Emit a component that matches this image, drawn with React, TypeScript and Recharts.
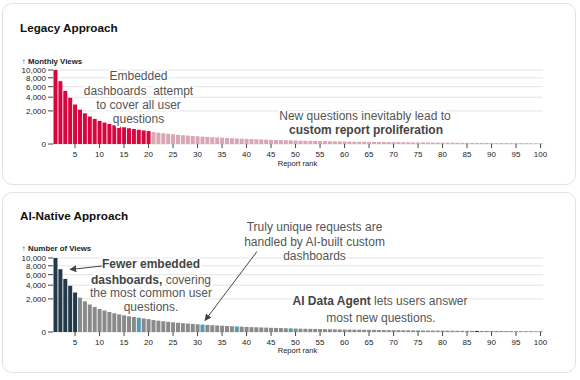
import { BarChart, Bar, XAxis, YAxis, CartesianGrid, Cell } from 'recharts';

const ranks = Array.from({ length: 100 }, (_, i) => i + 1);

const monthlyViews = [
  10000, 7200, 5150, 3900, 2850, 2150, 1720, 1380, 1150, 970,
  840, 730, 640, 570, 510, 455, 410, 370, 335, 305,
  260, 235, 210, 190, 172, 156, 142, 130, 119, 109,
  100, 92, 85, 78, 72, 66, 61, 56, 52, 48,
  44, 41, 38, 35, 32, 30, 28, 26, 24, 22,
  20, 19, 18, 17, 16, 15, 14, 13, 12, 11,
  10.5, 10, 9.5, 9, 8.5, 8, 7.5, 7, 6.6, 6.2,
  5.8, 5.5, 5.2, 4.9, 4.6, 4.3, 4, 3.8, 3.6, 3.4,
  3.2, 3, 2.8, 2.6, 2.4, 2.3, 2.2, 2.1, 2, 1.9,
  1.8, 1.7, 1.6, 1.5, 1.4, 1.3, 1.2, 1.1, 1, 1,
];

const yTicks = [0, 2000, 4000, 6000, 8000, 10000];
const xTicks = [5, 10, 15, 20, 25, 30, 35, 40, 45, 50, 55, 60, 65, 70, 75, 80, 85, 90, 95, 100];

const legacyEmbeddedCount = 20;
const aiEmbeddedRanks = [1, 2, 3, 4, 5, 87];
const aiCustomRanks = [18, 31, 38, 49, 75, 86, 100];

const data = ranks.map((rank, i) => ({ rank, views: monthlyViews[i] }));

const FONT = '"Liberation Sans", Arial, sans-serif';

function RankTick({ x, y, payload }: any) {
  if (!xTicks.includes(payload.value)) return <g />;
  return (
    <g>
      <line x1={x} x2={x} y1={y - 6} y2={y - 2} stroke="#444" />
      <text x={x} y={y + 6.5} textAnchor="middle" fontSize={8} fill="#222">
        {payload.value}
      </text>
    </g>
  );
}

function RankChart({ top, colorOf }: { top: number; colorOf: (rank: number) => string }) {
  return (
    <div style={{ position: 'absolute', left: 0, top }}>
      <BarChart
        width={580}
        height={175}
        data={data}
        margin={{ top: 70, right: 37, left: 0, bottom: 0 }}
        barCategoryGap="10%"
      >
        <CartesianGrid stroke="#e4e4e4" vertical={false} />
        <XAxis
          dataKey="rank"
          height={31}
          interval={0}
          tickSize={4}
          tickMargin={2}
          tickLine={false}
          axisLine={false}
          tick={<RankTick />}
        />
        <YAxis
          width={53}
          scale="sqrt"
          type="number"
          domain={[0, 10000]}
          ticks={yTicks}
          interval={0}
          tickSize={5}
          tickMargin={2}
          axisLine={false}
          tickLine={{ stroke: '#444' }}
          tick={{ fontSize: 8, fill: '#222' }}
          tickFormatter={(v) => v.toLocaleString('en-US')}
        />
        <Bar dataKey="views" isAnimationActive={false}>
          {data.map((d) => (
            <Cell key={d.rank} fill={colorOf(d.rank)} />
          ))}
        </Bar>
      </BarChart>
    </div>
  );
}

const halo = { stroke: '#fff', strokeWidth: 4, paintOrder: 'stroke' as const, strokeLinejoin: 'round' as const };

export default function App() {
  return (
    <div style={{ position: 'absolute', left: 0, top: 0, width: 580, height: 380, fontFamily: FONT, background: '#fff' }}>
      <div style={{ position: 'absolute', left: 2, top: 3, width: 572, height: 180, border: '1px solid #e2e2e2', borderRadius: 10 }} />
      <div style={{ position: 'absolute', left: 2, top: 192, width: 572, height: 179, border: '1px solid #e2e2e2', borderRadius: 10 }} />

      <RankChart top={0} colorOf={(r) => (r <= legacyEmbeddedCount ? '#d7063e' : '#d9a6b3')} />
      <RankChart
        top={188}
        colorOf={(r) =>
          aiEmbeddedRanks.includes(r) ? '#22394a' : aiCustomRanks.includes(r) ? '#4e9bb7' : '#8a8a8a'
        }
      />

      <svg width={580} height={380} style={{ position: 'absolute', left: 0, top: 0, pointerEvents: 'none' }} fontFamily={FONT}>
        <defs>
          <marker id="arrowHead" viewBox="0 0 10 10" refX="9" refY="5" markerWidth="7" markerHeight="7" orient="auto">
            <path d="M0,0 L10,5 L0,10 z" fill="#444" />
          </marker>
        </defs>

        <text x={20} y={32} fontSize={11.7} fontWeight="bold" fill="#111">Legacy Approach</text>
        <text x={20} y={219.5} fontSize={11.7} fontWeight="bold" fill="#111">AI-Native Approach</text>

        <text x={22} y={64} fontSize={7.8} fontWeight="600" fill="#222">↑ Monthly Views</text>
        <text x={22} y={251} fontSize={7.8} fontWeight="600" fill="#222">↑ Number of Views</text>

        <text x={297.5} y={166} fontSize={7.6} textAnchor="middle" fill="#222">Report rank</text>
        <text x={297.5} y={353} fontSize={7.6} textAnchor="middle" fill="#222">Report rank</text>

        <g fontSize={12} fill="#555" textAnchor="middle" {...halo}>
          <text x={138.5} y={80}>Embedded</text>
          <text x={138.5} y={94.5}>{'dashboards\u00a0\u00a0attempt'}</text>
          <text x={138.5} y={109}>to cover all user</text>
          <text x={138.5} y={123}>questions</text>

          <text x={365} y={119.5}>New questions inevitably lead to</text>
          <text x={366} y={133.5} fontWeight="bold" fill="#444">custom report proliferation</text>

          <text x={314.5} y={230.5}>Truly unique requests are</text>
          <text x={314.5} y={245.5}>handled by AI-built custom</text>
          <text x={314.5} y={260}>dashboards</text>

          <text x={151} y={267.8} fontWeight="bold" fill="#444">Fewer embedded</text>
          <text x={151} y={283.8}>
            <tspan fontWeight="bold" fill="#444">dashboards,</tspan> covering
          </text>
          <text x={151} y={297.2}>the most common user</text>
          <text x={151} y={311}>questions.</text>

          <text x={380} y={304.5}>
            <tspan fontWeight="bold" fill="#444">AI Data Agent</tspan> lets users answer
          </text>
          <text x={381} y={321.8}>most new questions.</text>
        </g>

        <line x1={102} y1={266} x2={70} y2={269.5} stroke="#444" strokeWidth={1} markerEnd="url(#arrowHead)" />
        <line x1={257} y1={251.5} x2={205} y2={320.5} stroke="#444" strokeWidth={1} markerEnd="url(#arrowHead)" />
      </svg>
    </div>
  );
}
